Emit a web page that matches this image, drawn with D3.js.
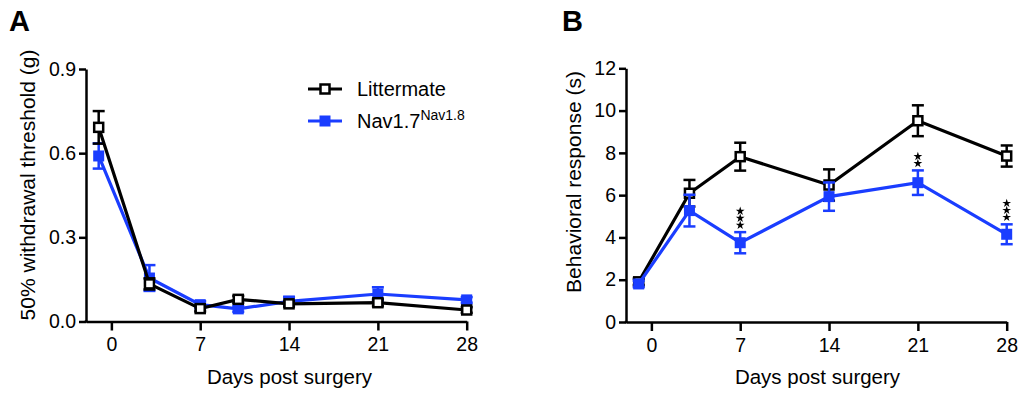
<!DOCTYPE html>
<html>
<head>
<meta charset="utf-8">
<script src="https://cdn.jsdelivr.net/npm/d3@7"></script>
<style>
  body { margin: 0; background: #fff; }
  svg { display: block; font-family: Arial, "Liberation Sans", sans-serif; }
</style>
</head>
<body>
<svg id="chart" width="1019" height="394"></svg>
<script>
// days at which the measurements were taken
var days = [-1, 3, 7, 10, 14, 21, 28];
var daysB = [-1, 3, 7, 14, 21, 28];
var dayTicks = [0, 7, 14, 21, 28];

// panel A: 50% withdrawal threshold (g), mean and sem
var littermateA = [0.692, 0.134, 0.046, 0.079, 0.063, 0.067, 0.041];
var littermateAErr = [0.058, 0.02, 0.01, 0.012, 0.01, 0.012, 0.01];
var navA = [0.59, 0.155, 0.06, 0.045, 0.072, 0.098, 0.077];
var navAErr = [0.045, 0.046, 0.012, 0.01, 0.016, 0.024, 0.01];

// panel B: behavioral response (s), mean and sem
var littermateB = [1.9, 6.09, 7.82, 6.48, 9.52, 7.85];
var littermateBErr = [0.15, 0.63, 0.66, 0.74, 0.73, 0.5];
var navB = [1.8, 5.27, 3.75, 5.93, 6.59, 4.15];
var navBErr = [0.15, 0.75, 0.5, 0.67, 0.58, 0.47];

// significance stars above the Nav1.7 series in B
var sigDays = [7, 21, 28];
var sigStars = [3, 2, 3];

var ticksA = [0, 0.3, 0.6, 0.9];
var ticksB = [0, 2, 4, 6, 8, 10, 12];

var BLACK = "#000";
var BLUE = "#1a3dff";

var svg = d3.select("#chart");

function zip(xs, ys, es) {
	return xs.map(function (x, i) { return {x: x, y: ys[i], e: es[i]}; });
}

/**
 * Draw one series: line, error bars, square markers.
 * filled: true for solid squares, false for open (white) squares
 */
function drawSeries(g, x, y, pts, color, filled) {
	var line = d3.line().x(d => x(d.x)).y(d => y(d.y));
	g.append("path").datum(pts)
		.attr("fill", "none").attr("stroke", color)
		.attr("stroke-width", 3.2).attr("stroke-linejoin", "miter")
		.attr("d", line);

	var err = g.append("g").attr("stroke", color).attr("stroke-width", 2.5);
	pts.forEach(function (d) {
		var cx = x(d.x);
		var top = y(d.y + d.e), bot = y(d.y - d.e);
		err.append("line").attr("x1", cx).attr("x2", cx).attr("y1", top).attr("y2", bot);
		err.append("line").attr("x1", cx - 6).attr("x2", cx + 6).attr("y1", top).attr("y2", top);
		err.append("line").attr("x1", cx - 6).attr("x2", cx + 6).attr("y1", bot).attr("y2", bot);
	});

	var s = filled ? 11 : 9;
	g.selectAll(null).data(pts).enter().append("rect")
		.attr("x", d => x(d.x) - s / 2).attr("y", d => y(d.y) - s / 2)
		.attr("width", s).attr("height", s)
		.attr("fill", filled ? color : "#fff")
		.attr("stroke", filled ? "none" : color)
		.attr("stroke-width", 2.5);
}

function drawAxes(g, x, y, yTicks, fmt) {
	var xAxis = g.append("g")
		.attr("transform", "translate(0," + y.range()[0] + ")")
		.call(d3.axisBottom(x).tickValues(dayTicks).tickSize(9).tickSizeOuter(0).tickPadding(7));
	var yAxis = g.append("g")
		.attr("transform", "translate(" + x.range()[0] + ",0)")
		.call(d3.axisLeft(y).tickValues(yTicks).tickFormat(fmt).tickSize(7).tickSizeOuter(0).tickPadding(3));
	[xAxis, yAxis].forEach(function (a) {
		a.selectAll("path, line").attr("stroke", "#000").attr("stroke-width", 2.5);
		a.selectAll("text").attr("font-size", 19.5).attr("fill", "#000")
			.attr("font-family", "Arial, 'Liberation Sans', sans-serif");
	});
	// square corner where the axes meet
	g.append("rect").attr("x", x.range()[0] - 1.25).attr("y", y.range()[0] - 1.25)
		.attr("width", 2.5).attr("height", 2.5).attr("fill", "#000");
}

function axisTitles(g, x, xLabelX, yLabelX, yLabelY, yText) {
	g.append("text").attr("x", xLabelX).attr("y", 384)
		.attr("text-anchor", "middle").attr("font-size", 20.5)
		.text("Days post surgery");
	g.append("text")
		.attr("transform", "translate(" + yLabelX + "," + yLabelY + ") rotate(-90)")
		.attr("text-anchor", "middle").attr("font-size", 21)
		.text(yText);
}

// ---------- Panel A ----------
var xA = d3.scaleLinear().domain([-2, 28]).range([86, 466.7]);
var yA = d3.scaleLinear().domain([0, 0.9]).range([321.5, 69]);
var gA = svg.append("g");

drawAxes(gA, xA, yA, ticksA, d3.format(".1f"));
drawSeries(gA, xA, yA, zip(days, navA, navAErr), BLUE, true);
drawSeries(gA, xA, yA, zip(days, littermateA, littermateAErr), BLACK, false);
axisTitles(gA, xA, 289.5, 35, 185, "50% withdrawal threshold (g)");

gA.append("text").attr("x", 9).attr("y", 31)
	.attr("font-size", 29).attr("font-weight", "bold").text("A");

// legend
var legend = [
	{name: "Littermate", color: BLACK, filled: false, y: 89},
	{name: "Nav1.7", sup: "Nav1.8", color: BLUE, filled: true, y: 121}
];
legend.forEach(function (d) {
	var lg = gA.append("g");
	lg.append("line").attr("x1", 308).attr("x2", 342).attr("y1", d.y).attr("y2", d.y)
		.attr("stroke", d.color).attr("stroke-width", 3.2);
	var s = d.filled ? 11 : 9;
	lg.append("rect").attr("x", 325 - s / 2).attr("y", d.y - s / 2)
		.attr("width", s).attr("height", s)
		.attr("fill", d.filled ? d.color : "#fff")
		.attr("stroke", d.filled ? "none" : d.color).attr("stroke-width", 2.5);
	var t = lg.append("text").attr("x", 357).attr("y", d.y + 7).attr("font-size", 20);
	t.append("tspan").text(d.name);
	if (d.sup) t.append("tspan").attr("font-size", 14).attr("dy", -8).text(d.sup);
});

// ---------- Panel B ----------
var xB = d3.scaleLinear().domain([-2, 28]).range([626, 1006.7]);
var yB = d3.scaleLinear().domain([0, 12]).range([322, 68.3]);
var gB = svg.append("g");

drawAxes(gB, xB, yB, ticksB, d3.format("d"));
drawSeries(gB, xB, yB, zip(daysB, littermateB, littermateBErr), BLACK, false);
drawSeries(gB, xB, yB, zip(daysB, navB, navBErr), BLUE, true);
axisTitles(gB, xB, 817.5, 581, 182, "Behavioral response (s)");

gB.append("text").attr("x", 562).attr("y", 31)
	.attr("font-size", 29).attr("font-weight", "bold").text("B");

var star = d3.symbol().type(d3.symbolStar).size(24);
sigDays.forEach(function (day, i) {
	var k = daysB.indexOf(day);
	var top = yB(navB[k] + navBErr[k]);
	for (var j = 0; j < sigStars[i]; j++) {
		gB.append("path").attr("d", star)
			.attr("transform", "translate(" + xB(day) + "," + (top - 7 - j * 7) + ")")
			.attr("fill", "#000");
	}
});
</script>
</body>
</html>
